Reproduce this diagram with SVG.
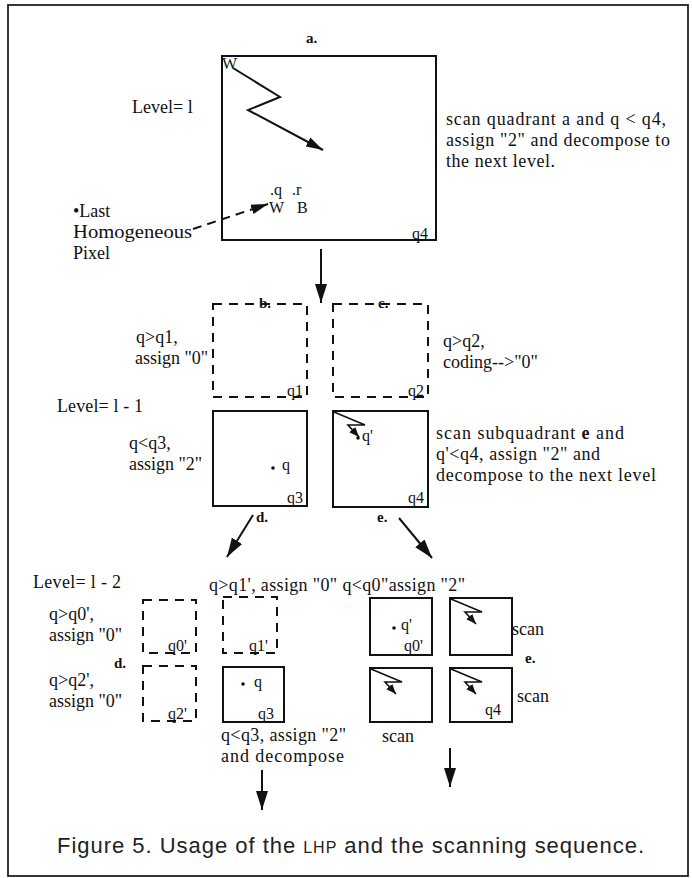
<svg xmlns="http://www.w3.org/2000/svg" width="692" height="878" viewBox="0 0 692 878">
<defs>
<style>
.t{font-family:"Liberation Serif","Times New Roman",serif;font-size:18px;fill:#111}
.s{font-family:"Liberation Serif","Times New Roman",serif;font-size:16px;fill:#111}
.b{font-family:"Liberation Serif","Times New Roman",serif;font-size:15px;font-weight:bold;fill:#111}
.cap{font-family:"Liberation Sans",Arial,sans-serif;font-size:22px;fill:#222}
.box{fill:none;stroke:#111;stroke-width:2}
.dash{fill:none;stroke:#111;stroke-width:2;stroke-dasharray:9 7}
.ln{fill:none;stroke:#111;stroke-width:2}
.ln1{fill:none;stroke:#111;stroke-width:1.6}
</style>
<marker id="ah" markerUnits="userSpaceOnUse" markerWidth="20" markerHeight="14" refX="19" refY="7" orient="auto">
<path d="M0,1 L19,7 L0,13 Z" fill="#111"/>
</marker>
<marker id="ahm" markerUnits="userSpaceOnUse" markerWidth="18" markerHeight="12" refX="17" refY="6" orient="auto">
<path d="M0,1 L17,6 L0,11 Z" fill="#111"/>
</marker>
<marker id="ahs" markerUnits="userSpaceOnUse" markerWidth="11" markerHeight="9" refX="10" refY="4.5" orient="auto">
<path d="M0,0.5 L10,4.5 L0,8.5 Z" fill="#111"/>
</marker>
<path id="bolt" d="M0,0 L31,13 L14,13 L25,25" class="ln1" marker-end="url(#ahs)"/>
</defs>

<rect x="8" y="5" width="680" height="871" fill="none" stroke="#222" stroke-width="1.8"/>

<g id="box-a">
<text class="b" x="306" y="43" font-size="12">a.</text>
<rect class="box" x="222" y="56" width="214" height="184"/>
<text class="s" x="222" y="69" font-size="12">W</text>
<text class="s" x="412" y="239">q4</text>
<text class="s" x="270" y="195">.q</text>
<text class="s" x="292" y="195">.r</text>
<text class="s" x="269" y="213">W</text>
<text class="s" x="297" y="213">B</text>
</g>

<g id="label-level-l">
<text class="t" x="132" y="113">Level= l</text>
</g>
<g id="label-lhp">
<text class="t" x="73" y="217">•Last</text>
<text class="t" x="73" y="238" textLength="119" lengthAdjust="spacingAndGlyphs">Homogeneous</text>
<text class="t" x="73" y="259">Pixel</text>
</g>
<g id="label-a">
<text class="t" x="446" y="125" textLength="220" lengthAdjust="spacing">scan quadrant a and q &lt; q4,</text>
<text class="t" x="446" y="146" textLength="224" lengthAdjust="spacing">assign "2" and decompose to</text>
<text class="t" x="446" y="167" textLength="109" lengthAdjust="spacing">the next level.</text>
</g>

<g id="box-b">
<rect class="dash" x="213" y="304" width="94" height="93"/>
<text class="b" x="259" y="308">b.</text>
<text class="s" x="287" y="396">q1</text>
<text class="t" x="136" y="343">q&gt;q1,</text>
<text class="t" x="135" y="364">assign "0"</text>
</g>
<g id="box-c">
<rect class="dash" x="333" y="304" width="95" height="93"/>
<text class="b" x="378" y="308">c.</text>
<text class="s" x="408" y="396">q2</text>
<text class="t" x="443" y="347">q&gt;q2,</text>
<text class="t" x="443" y="368">coding--&gt;"0"</text>
</g>
<g id="label-level-l1">
<text class="t" x="57" y="412" textLength="86" lengthAdjust="spacing">Level= l - 1</text>
</g>
<g id="box-d">
<rect class="box" x="213" y="411" width="94" height="95"/>
<circle cx="273" cy="468" r="1.8" fill="#111"/>
<text class="s" x="282" y="470">q</text>
<text class="s" x="287" y="503">q3</text>
<text class="t" x="129" y="449">q&lt;q3,</text>
<text class="t" x="129" y="470">assign "2"</text>
<text class="b" x="256" y="522" font-size="16">d.</text>
</g>
<g id="box-e">
<rect class="box" x="333" y="411" width="95" height="96"/>
<use href="#bolt" x="334" y="412"/>
<circle cx="358" cy="438" r="1.8" fill="#111"/>
<text class="s" x="362" y="441">q'</text>
<text class="s" x="408" y="503">q4</text>
<text class="b" x="377" y="522" font-size="16">e.</text>
<text class="t" x="436" y="439" textLength="188" lengthAdjust="spacing">scan subquadrant <tspan font-weight="bold">e</tspan> and</text>
<text class="t" x="436" y="460" textLength="164" lengthAdjust="spacing">q'&lt;q4, assign "2" and</text>
<text class="t" x="436" y="481" textLength="220" lengthAdjust="spacing">decompose to the next level</text>
</g>

<g id="label-level-l2">
<text class="t" x="33" y="588" textLength="88" lengthAdjust="spacing">Level= l - 2</text>
<text class="t" x="209" y="591" textLength="256" lengthAdjust="spacing">q&gt;q1', assign "0" q&lt;q0"assign "2"</text>
</g>
<g id="group-d">
<rect class="dash" x="143" y="600" width="53" height="53" stroke-dasharray="10 7"/>
<text class="s" x="168" y="651">q0'</text>
<rect class="dash" x="223" y="597" width="54" height="56" stroke-dasharray="10 7"/>
<text class="s" x="249" y="651">q1'</text>
<rect class="dash" x="143" y="666" width="53" height="55" stroke-dasharray="10 7"/>
<text class="s" x="168" y="719">q2'</text>
<rect class="box" x="223" y="667" width="61" height="55"/>
<circle cx="243" cy="684" r="1.8" fill="#111"/>
<text class="s" x="254" y="687">q</text>
<text class="s" x="258" y="719">q3</text>
<text class="t" x="49" y="620">q&gt;q0',</text>
<text class="t" x="49" y="641">assign "0"</text>
<text class="b" x="114" y="668" font-size="16">d.</text>
<text class="t" x="49" y="686">q&gt;q2',</text>
<text class="t" x="49" y="707">assign "0"</text>
<text class="t" x="221" y="741" textLength="125" lengthAdjust="spacing">q&lt;q3, assign "2"</text>
<text class="t" x="221" y="762" textLength="123" lengthAdjust="spacing">and decompose</text>
</g>
<g id="group-e">
<rect class="box" x="370" y="598" width="62" height="57"/>
<circle cx="394" cy="628" r="1.8" fill="#111"/>
<text class="s" x="401" y="630" font-size="14">q'</text>
<text class="s" x="404" y="651">q0'</text>
<rect class="box" x="450" y="598" width="62" height="57"/>
<use href="#bolt" x="451" y="599"/>
<rect class="box" x="370" y="668" width="62" height="54"/>
<use href="#bolt" x="371" y="669"/>
<rect class="box" x="450" y="668" width="62" height="54"/>
<use href="#bolt" x="451" y="669"/>
<text class="s" x="485" y="715">q4</text>
<text class="t" x="512" y="635">scan</text>
<text class="b" x="525" y="663" font-size="16">e.</text>
<text class="t" x="517" y="702">scan</text>
<text class="t" x="382" y="742">scan</text>
</g>

<g id="connectors">
<polyline class="ln" points="233,68 280,97 248,110 323,150" marker-end="url(#ahm)"/>
<line class="ln" x1="193" y1="229" x2="268" y2="204" stroke-dasharray="9 6" marker-end="url(#ahm)"/>
<line class="ln" x1="321" y1="249" x2="321" y2="303" marker-end="url(#ah)"/>
<line class="ln" x1="253" y1="515" x2="227" y2="557" marker-end="url(#ah)"/>
<line class="ln" x1="399" y1="518" x2="432" y2="558" marker-end="url(#ah)"/>
<line class="ln" x1="262" y1="770" x2="262" y2="810" marker-end="url(#ah)"/>
<line class="ln" x1="450" y1="748" x2="450" y2="787" marker-end="url(#ah)"/>
</g>

<g id="caption">
<text class="cap" x="57" y="853" textLength="587" lengthAdjust="spacing">Figure 5. Usage of the <tspan font-size="16">LHP</tspan> and the scanning sequence.</text>
</g>
</svg>
